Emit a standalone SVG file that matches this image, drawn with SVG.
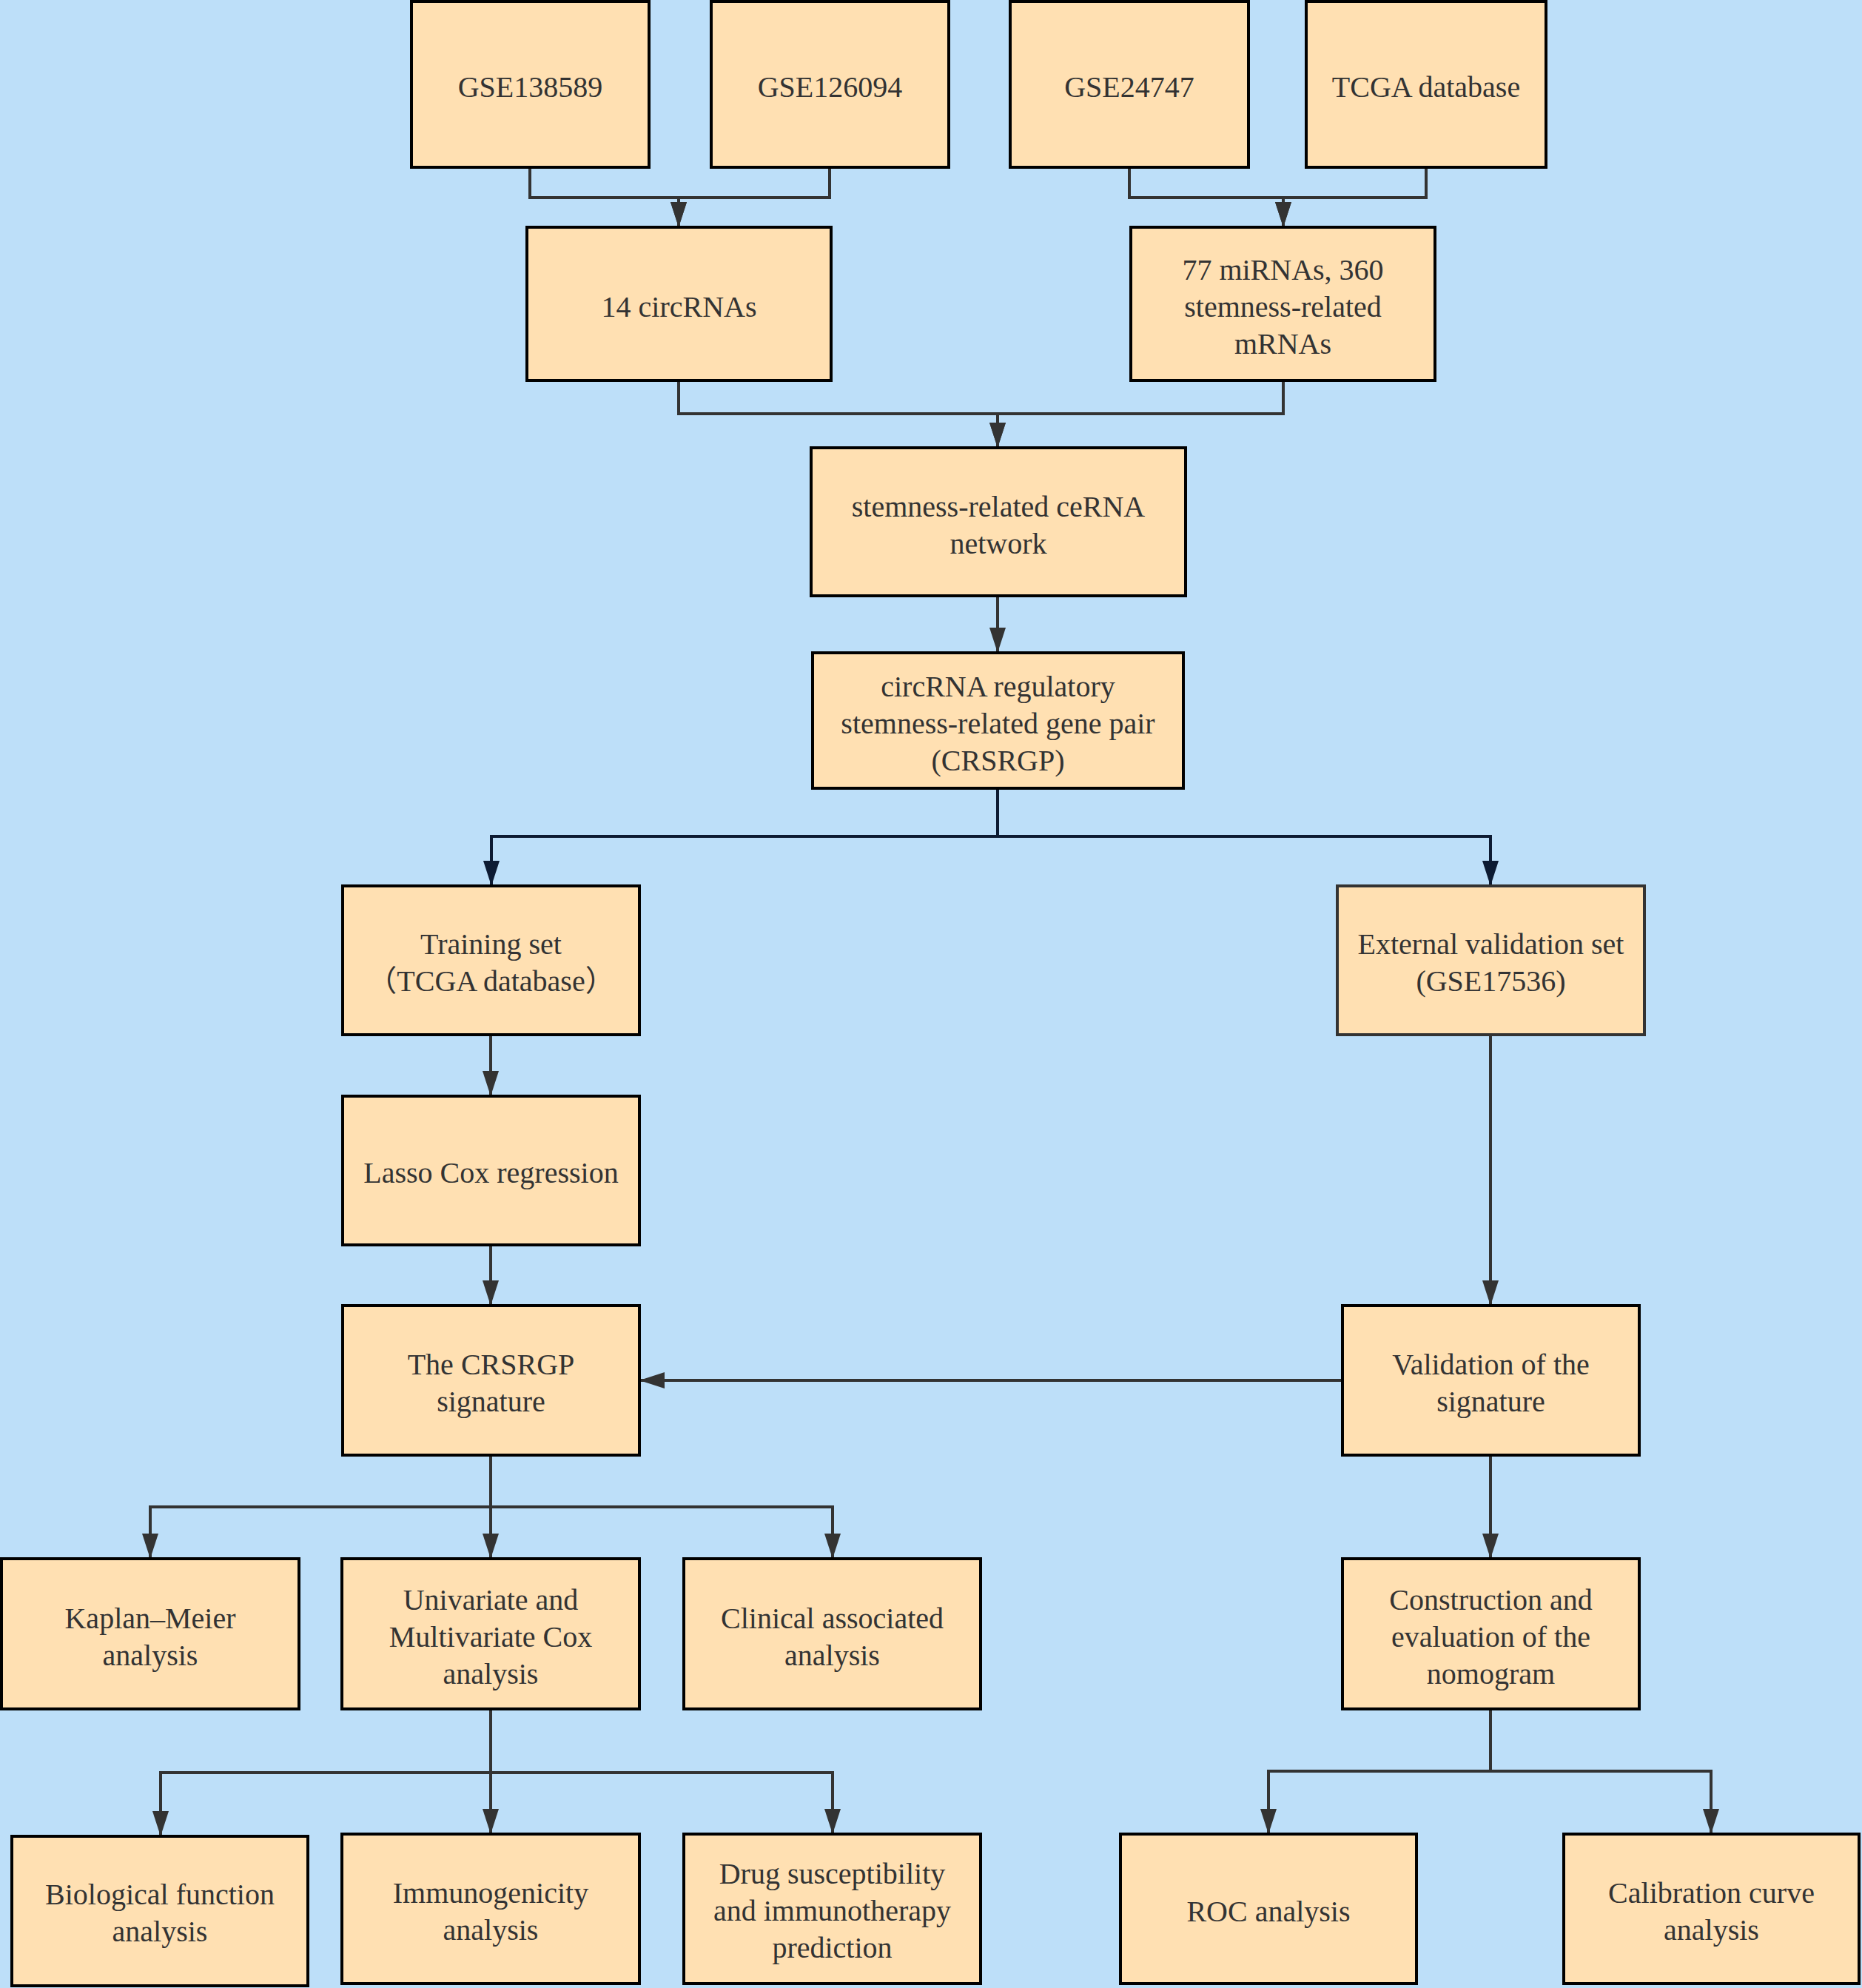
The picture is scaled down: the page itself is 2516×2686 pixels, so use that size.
<svg xmlns="http://www.w3.org/2000/svg" width="2516" height="2686" viewBox="0 0 2516 2686">
<style>
.bx{fill:#FFE0B2;stroke:#000;stroke-width:4}
.bx2{fill:#FFE0B2;stroke:#333;stroke-width:4}
text{font-family:"Liberation Serif","Noto Sans CJK SC",serif;font-size:40px;fill:#333;text-anchor:middle}
.c{fill:none;stroke:#333;stroke-width:4}
.cn{fill:none;stroke:#0d1b33;stroke-width:4}
</style>
<defs>
<marker id="a" markerUnits="userSpaceOnUse" markerWidth="36" markerHeight="26" viewBox="0 -12 36 24" refX="34" refY="0" orient="auto"><path d="M0,-11 L34,0 L0,11 Z" fill="#333"/></marker>
<marker id="an" markerUnits="userSpaceOnUse" markerWidth="36" markerHeight="26" viewBox="0 -12 36 24" refX="34" refY="0" orient="auto"><path d="M0,-11 L34,0 L0,11 Z" fill="#0d1b33"/></marker>
</defs>
<rect x="0" y="0" width="2516" height="2686" fill="#BDDFF9"/>
<g id="connectors">
<path class="c" d="M716,226 V267 H917 V307" marker-end="url(#a)"/>
<path class="c" d="M1121,226 V267 H917 V307" marker-end="url(#a)"/>
<path class="c" d="M1526,226 V267 H1734 V307" marker-end="url(#a)"/>
<path class="c" d="M1927,226 V267 H1734 V307" marker-end="url(#a)"/>
<path class="c" d="M917,514 V559 H1348 V605" marker-end="url(#a)"/>
<path class="c" d="M1734,514 V559 H1348 V605" marker-end="url(#a)"/>
<path class="c" d="M1348,805 V882" marker-end="url(#a)"/>
<path class="cn" d="M1348,1065 V1130 H664 V1197" marker-end="url(#an)"/>
<path class="cn" d="M1348,1065 V1130 H2014 V1197" marker-end="url(#an)"/>
<path class="c" d="M663,1398 V1481" marker-end="url(#a)"/>
<path class="c" d="M663,1682 V1764" marker-end="url(#a)"/>
<path class="c" d="M2014,1398 V1764" marker-end="url(#a)"/>
<path class="c" d="M1814,1865 H864" marker-end="url(#a)"/>
<path class="c" d="M663,1966 V2036 H203 V2106" marker-end="url(#a)"/>
<path class="c" d="M663,1966 V2106" marker-end="url(#a)"/>
<path class="c" d="M663,1966 V2036 H1125 V2106" marker-end="url(#a)"/>
<path class="c" d="M2014,1966 V2106" marker-end="url(#a)"/>
<path class="c" d="M663,2309 V2395 H217 V2481" marker-end="url(#a)"/>
<path class="c" d="M663,2309 V2478" marker-end="url(#a)"/>
<path class="c" d="M663,2309 V2395 H1125 V2478" marker-end="url(#a)"/>
<path class="c" d="M2014,2309 V2393 H1714 V2478" marker-end="url(#a)"/>
<path class="c" d="M2014,2309 V2393 H2312 V2478" marker-end="url(#a)"/>
</g>
<g id="n1"><rect class="bx" x="556" y="2" width="321" height="224"/><text x="716.5" y="131">GSE138589</text></g>
<g id="n2"><rect class="bx" x="961" y="2" width="321" height="224"/><text x="1121.5" y="131">GSE126094</text></g>
<g id="n3"><rect class="bx" x="1365" y="2" width="322" height="224"/><text x="1526" y="131">GSE24747</text></g>
<g id="n4"><rect class="bx" x="1765" y="2" width="324" height="224"/><text x="1927" y="131">TCGA database</text></g>
<g id="n5"><rect class="bx" x="712" y="307" width="411" height="207"/><text x="917.5" y="428">14 circRNAs</text></g>
<g id="n6"><rect class="bx" x="1528" y="307" width="411" height="207"/><text x="1733.5" y="378">77 miRNAs, 360</text><text x="1733.5" y="428">stemness-related</text><text x="1733.5" y="478">mRNAs</text></g>
<g id="n7"><rect class="bx" x="1096" y="605" width="506" height="200"/><text x="1349" y="698">stemness-related ceRNA</text><text x="1349" y="748">network</text></g>
<g id="n8"><rect class="bx" x="1098" y="882" width="501" height="183"/><text x="1348.5" y="941">circRNA regulatory</text><text x="1348.5" y="991">stemness-related gene pair</text><text x="1348.5" y="1041">(CRSRGP)</text></g>
<g id="n9"><rect class="bx" x="463" y="1197" width="401" height="201"/><text x="663.5" y="1289">Training set</text><text x="663.5" y="1339">（TCGA database）</text></g>
<g id="n10"><rect class="bx2" x="1807" y="1197" width="415" height="201"/><text x="2014.5" y="1289">External validation set</text><text x="2014.5" y="1339">(GSE17536)</text></g>
<g id="n11"><rect class="bx" x="463" y="1481" width="401" height="201"/><text x="663.5" y="1598">Lasso Cox regression</text></g>
<g id="n12"><rect class="bx" x="463" y="1764" width="401" height="202"/><text x="663.5" y="1857">The CRSRGP</text><text x="663.5" y="1907">signature</text></g>
<g id="n13"><rect class="bx" x="1814" y="1764" width="401" height="202"/><text x="2014.5" y="1857">Validation of the</text><text x="2014.5" y="1907">signature</text></g>
<g id="n14"><rect class="bx" x="2" y="2106" width="402" height="203"/><text x="203" y="2200">Kaplan–Meier</text><text x="203" y="2250">analysis</text></g>
<g id="n15"><rect class="bx" x="462" y="2106" width="402" height="203"/><text x="663" y="2175">Univariate and</text><text x="663" y="2225">Multivariate Cox</text><text x="663" y="2275">analysis</text></g>
<g id="n16"><rect class="bx" x="924" y="2106" width="401" height="203"/><text x="1124.5" y="2200">Clinical associated</text><text x="1124.5" y="2250">analysis</text></g>
<g id="n17"><rect class="bx" x="1814" y="2106" width="401" height="203"/><text x="2014.5" y="2175">Construction and</text><text x="2014.5" y="2225">evaluation of the</text><text x="2014.5" y="2275">nomogram</text></g>
<g id="n18"><rect class="bx" x="16" y="2481" width="400" height="202"/><text x="216" y="2573">Biological function</text><text x="216" y="2623">analysis</text></g>
<g id="n19"><rect class="bx" x="462" y="2478" width="402" height="202"/><text x="663" y="2571">Immunogenicity</text><text x="663" y="2621">analysis</text></g>
<g id="n20"><rect class="bx" x="924" y="2478" width="401" height="202"/><text x="1124.5" y="2545">Drug susceptibility</text><text x="1124.5" y="2595">and immunotherapy</text><text x="1124.5" y="2645">prediction</text></g>
<g id="n21"><rect class="bx" x="1514" y="2478" width="400" height="202"/><text x="1714" y="2596">ROC analysis</text></g>
<g id="n22"><rect class="bx" x="2113" y="2478" width="399" height="202"/><text x="2312.5" y="2571">Calibration curve</text><text x="2312.5" y="2621">analysis</text></g>
</svg>
